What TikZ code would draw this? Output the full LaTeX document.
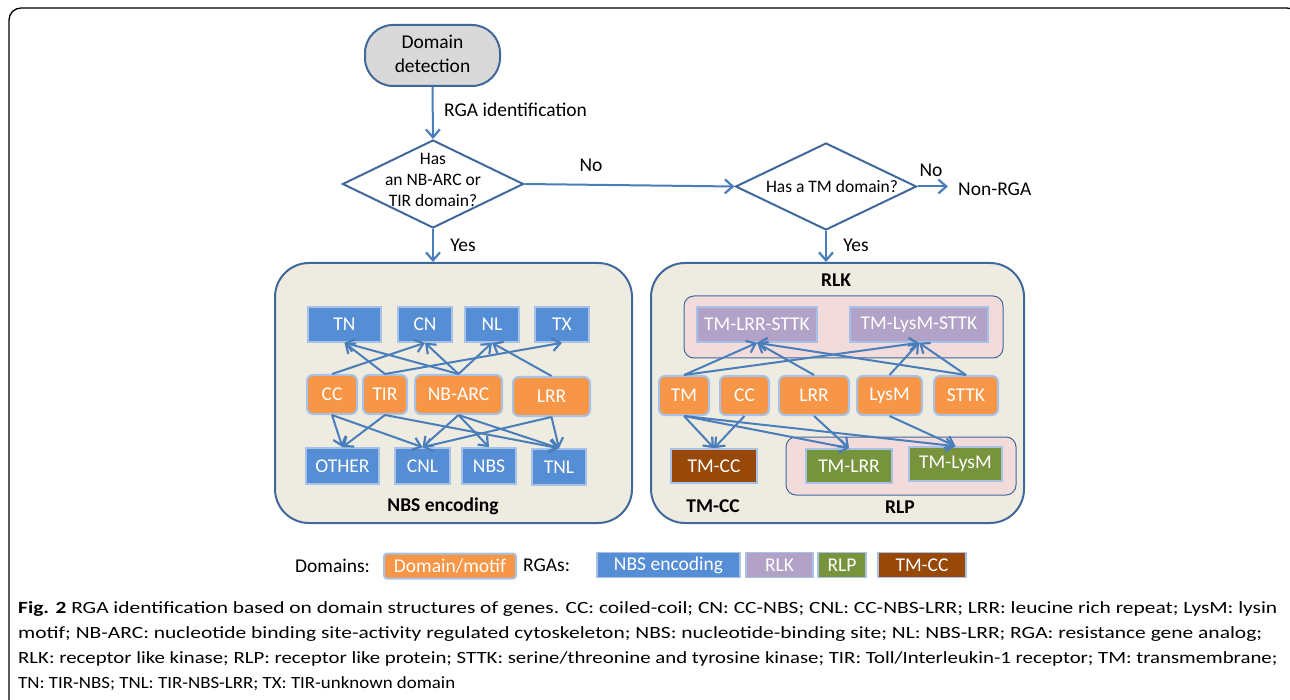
\documentclass[tikz,border=0pt]{standalone}
\usepackage{fontspec}
\setmainfont{Carlito}
\usetikzlibrary{arrows.meta,shapes.geometric}
\definecolor{frameblue}{HTML}{41689A}
\definecolor{arrowblue}{HTML}{4A7EBB}
\definecolor{nbsblue}{HTML}{558ED5}
\definecolor{edgelight}{HTML}{A7C2E6}
\definecolor{domorange}{HTML}{F79646}
\definecolor{rlkpurple}{HTML}{B3A2C7}
\definecolor{rlpgreen}{HTML}{77933C}
\definecolor{tmccbrown}{HTML}{984807}
\definecolor{pinkbg}{HTML}{F2DCDB}
\definecolor{beige}{HTML}{EEEBE1}
\definecolor{termgray}{HTML}{D9D9D9}
\newcommand{\capline}[2]{\resizebox{#1}{11pt}{\smash{#2}\rule{0pt}{\fontcharht\font`H}}}
\begin{document}
\begin{tikzpicture}[x=1pt,y=-1pt,
  boxfont/.style={font=\fontsize{19.5}{23}\selectfont},
  rgabox/.style={rectangle, draw=edgelight, line width=1.6pt, text=white, inner sep=0pt, boxfont},
  nbsbox/.style={rgabox, fill=nbsblue},
  rlkbox/.style={rgabox, fill=rlkpurple},
  rlpbox/.style={rgabox, fill=rlpgreen},
  tmccbox/.style={rgabox, fill=tmccbrown},
  dombox/.style={rgabox, fill=domorange, rounded corners=6pt, line width=2pt},
  bigbox/.style={rectangle, rounded corners=34pt, fill=beige, draw=frameblue, line width=2pt, inner sep=0pt},
  groupbox/.style={rectangle, rounded corners=10pt, fill=pinkbg, draw=frameblue, line width=1pt, inner sep=0pt},
  flowarr/.style={draw=arrowblue, line width=2pt, -{Straight Barb[length=8pt,width=14pt,line width=2.2pt]}},
  arr/.style={draw=arrowblue, line width=2pt, -{Straight Barb[length=8pt,width=13pt,line width=2.2pt]}},
  lbl/.style={font=\fontsize{19.5}{23}\selectfont, inner sep=0pt},
  grp/.style={font=\fontsize{19.5}{23}\selectfont\bfseries, inner sep=0pt},
  captionline/.style={anchor=base west, inner sep=0pt, font=\fontsize{17}{20}\selectfont}
]
\useasboundingbox (0,0) rectangle (1290,700);
% outer frame
\draw[line width=1.3pt, rounded corners=12pt] (9,710) -- (9,8) -- (1299,8) -- (1299,100);

% flowchart
\node[rectangle, rounded corners=28pt, fill=termgray, draw=frameblue, line width=2pt, minimum width=135pt, minimum height=61pt, inner sep=0pt] (term) at (432.5,55.5) {};
\node[align=center, font=\fontsize{19.5}{24}\selectfont, inner sep=0pt] (termtxt) at (432.5,54) {Domain\\detection};

\node[diamond, draw=frameblue, line width=2pt, fill=white, minimum width=181pt, minimum height=88pt, inner sep=0pt] (d1) at (433,184) {};
\node[align=center, font=\fontsize{17.5}{21}\selectfont, inner sep=0pt] (d1txt) at (433,180) {Has\\an NB-ARC or\\TIR domain?};

\node[diamond, draw=frameblue, line width=2pt, fill=white, minimum width=181pt, minimum height=87pt, inner sep=0pt] (d2) at (826,186.5) {};
\node[font=\fontsize{17.5}{21}\selectfont, inner sep=0pt] (d2txt) at (832,186) {Has a TM domain?};

\node[lbl, anchor=west, inner xsep=10pt] (nonrga) at (948,189) {Non-RGA};

\node[bigbox, minimum width=357pt, minimum height=260pt] (lbox) at (453.5,393) {};
\node[bigbox, minimum width=373pt, minimum height=260pt] (rbox) at (837.5,393) {};

\draw[flowarr] (term.south) -- (d1.north);
\draw[flowarr] (d1.east) -- (d2.west);
\draw[flowarr] (d2.east) -- (d2.east -| nonrga.west);
\draw[flowarr] (d1.south) -- (d1.south |- lbox.north);
\draw[flowarr] (d2.south) -- (d2.south |- rbox.north);

\node[lbl, anchor=west] (rgaid) at (444,110) {RGA identification};
\node[lbl] (no1) at (591,165) {No};
\node[lbl] (yes1) at (463,245) {Yes};
\node[lbl] (no2) at (931,170) {No};
\node[lbl] (yes2) at (856,245) {Yes};

% left box (NBS encoding)
\node[nbsbox, minimum width=73pt, minimum height=35pt] (TN) at (344.5,324.5) {TN};
\node[nbsbox, minimum width=54pt, minimum height=35pt] (CN) at (425,324.5) {CN};
\node[nbsbox, minimum width=54pt, minimum height=35pt] (NL) at (492,324.5) {NL};
\node[nbsbox, minimum width=54pt, minimum height=35pt] (TX) at (562,324.5) {TX};

\node[dombox, minimum width=50pt, minimum height=39pt] (lCC) at (332,394.5) {CC};
\node[dombox, minimum width=44pt, minimum height=39pt] (lTIR) at (385,394.5) {TIR};
\node[dombox, minimum width=87pt, minimum height=39pt] (lNB) at (458.5,394.5) {NB-ARC};
\node[dombox, minimum width=77pt, minimum height=39pt] (lLRR) at (551.5,396.5) {LRR};

\node[nbsbox, minimum width=73pt, minimum height=36pt] (OTHER) at (342.5,466) {OTHER};
\node[nbsbox, minimum width=55pt, minimum height=36pt] (CNL) at (422.5,466) {CNL};
\node[nbsbox, minimum width=54pt, minimum height=36pt] (NBS) at (489,466) {NBS};
\node[nbsbox, minimum width=54pt, minimum height=36pt] (TNL) at (559,467) {TNL};

\node[grp] (nbslbl) at (443,506) {NBS encoding};

\draw[arr] (lCC.north) -- (CN.south);
\draw[arr] (lTIR.north) -- (TN.south);
\draw[arr] (lTIR.north) -- (TX.south);
\draw[arr] (lNB.north) -- (TN.south);
\draw[arr] (lNB.north) -- (CN.south);
\draw[arr] (lNB.north) -- (NL.south);
\draw[arr] (lLRR.north) -- (NL.south);

\draw[arr] (lCC.south) -- (OTHER.north);
\draw[arr] (lCC.south) -- (CNL.north);
\draw[arr] (lTIR.south) -- (OTHER.north);
\draw[arr] (lTIR.south) -- (TNL.north);
\draw[arr] (lNB.south) -- (CNL.north);
\draw[arr] (lNB.south) -- (NBS.north);
\draw[arr] (lNB.south) -- (TNL.north);
\draw[arr] (lLRR.south) -- (CNL.north);
\draw[arr] (lLRR.south) -- (TNL.north);

% right box
\node[grp] (rlklbl) at (836,280) {RLK};
\node[groupbox, minimum width=319pt, minimum height=62pt] (rlkgrp) at (843.5,327) {};
\node[groupbox, minimum width=230pt, minimum height=58pt] (rlpgrp) at (901,466) {};

\node[rlkbox, minimum width=120pt, minimum height=35pt] (TMLRRSTTK) at (757,324.5) {TM-LRR-STTK};
\node[rlkbox, minimum width=138pt, minimum height=35pt] (TMLysMSTTK) at (919,324.5) {TM-LysM-STTK};

\node[dombox, minimum width=50pt, minimum height=39pt] (rTM) at (684,395.5) {TM};
\node[dombox, minimum width=49pt, minimum height=39pt] (rCC) at (744.5,395.5) {CC};
\node[dombox, minimum width=70pt, minimum height=39pt] (rLRR) at (814,395.5) {LRR};
\node[dombox, minimum width=65pt, minimum height=39pt] (rLysM) at (889.5,395.5) {LysM};
\node[dombox, minimum width=64pt, minimum height=39pt] (rSTTK) at (966,395.5) {STTK};

\node[tmccbox, minimum width=86pt, minimum height=34pt] (TMCC) at (714,466) {TM-CC};
\node[rlpbox, minimum width=86pt, minimum height=34pt] (TMLRR) at (849,466) {TM-LRR};
\node[rlpbox, minimum width=93pt, minimum height=34pt] (TMLysM) at (955.5,464) {TM-LysM};

\node[grp] (tmcclbl) at (713,506) {TM-CC};
\node[grp] (rlplbl) at (900,507) {RLP};

\draw[arr] (rTM.north) -- (TMLRRSTTK.south);
\draw[arr] (rTM.north) -- (TMLysMSTTK.south);
\draw[arr] (rLRR.north) -- (TMLRRSTTK.south);
\draw[arr] (rSTTK.north) -- (TMLRRSTTK.south);
\draw[arr] (rLysM.north) -- (TMLysMSTTK.south);
\draw[arr] (rSTTK.north) -- (TMLysMSTTK.south);

\draw[arr] (rTM.south) -- (TMCC.north);
\draw[arr] (rCC.south) -- (TMCC.north);
\draw[arr] (rTM.south) -- (TMLRR.north);
\draw[arr] (rTM.south) -- (TMLysM.north);
\draw[arr] (rLRR.south) -- (TMLRR.north);
\draw[arr] (rLysM.south) -- (TMLysM.north);

% legend
\node[lbl, anchor=west] (domlbl) at (295,566) {Domains:};
\node[dombox, rounded corners=3pt, minimum width=132pt, minimum height=25pt] (legdom) at (450,566) {Domain/motif};
\node[lbl, anchor=west] (rgalbl) at (523,565) {RGAs:};
\node[nbsbox, minimum width=143pt, minimum height=25pt] (legnbs) at (668.5,565) {NBS encoding};
\node[rlkbox, minimum width=67pt, minimum height=25pt] (legrlk) at (779.5,565) {RLK};
\node[rlpbox, minimum width=48pt, minimum height=25pt] (legrlp) at (842,565) {RLP};
\node[tmccbox, minimum width=88pt, minimum height=25pt] (legtmcc) at (922,565) {TM-CC};

% caption
\node[captionline] (cap1) at (18,613) {\capline{1259pt}{\textbf{Fig. 2} RGA identification based on domain structures of genes. CC: coiled-coil; CN: CC-NBS; CNL: CC-NBS-LRR; LRR: leucine rich repeat; LysM: lysin}};
\node[captionline] (cap2) at (18,638) {\capline{1244pt}{motif; NB-ARC: nucleotide binding site-activity regulated cytoskeleton; NBS: nucleotide-binding site; NL: NBS-LRR; RGA: resistance gene analog;}};
\node[captionline] (cap3) at (18,663) {\capline{1259pt}{RLK: receptor like kinase; RLP: receptor like protein; STTK: serine/threonine and tyrosine kinase; TIR: Toll/Interleukin-1 receptor; TM: transmembrane;}};
\node[captionline] (cap4) at (18,688) {\capline{437pt}{TN: TIR-NBS; TNL: TIR-NBS-LRR; TX: TIR-unknown domain}};
\end{tikzpicture}
\end{document}
